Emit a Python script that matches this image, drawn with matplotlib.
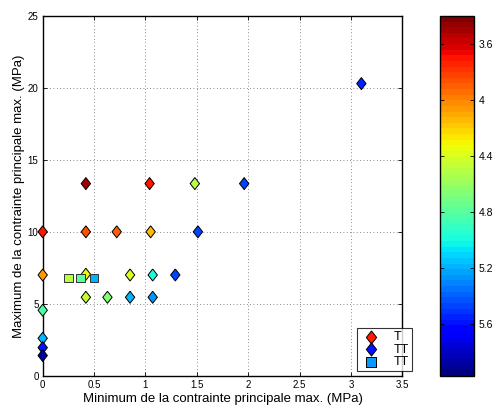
import numpy as np
import matplotlib
matplotlib.use("Agg")
import matplotlib.pyplot as plt
from matplotlib.colors import Normalize

plt.rcParams['font.family'] = ['Liberation Sans', 'DejaVu Sans']

# Diamonds (T)
diam_x = [0, 0, 0, 0, 0, 0,
          0.42, 0.42, 0.42, 0.42,
          0.72, 0.63, 0.85, 0.85,
          1.04, 1.05, 1.07, 1.07,
          1.29, 1.48, 1.51, 1.96, 3.10]
diam_y = [10.0, 7.0, 4.55, 2.6, 1.95, 1.4,
          13.35, 10.0, 7.05, 5.45,
          10.0, 5.45, 7.0, 5.45,
          13.35, 10.0, 7.0, 5.45,
          7.0, 13.35, 10.0, 13.35, 20.3]
diam_c = [3.72, 4.05, 4.82, 5.18, 5.6, 5.85,
          3.5, 3.85, 4.3, 4.48,
          3.92, 4.65, 4.4, 5.18,
          3.72, 4.15, 5.0, 5.25,
          5.45, 4.5, 5.45, 5.45, 5.55]
# Squares (TT)
sq_x = [0.25, 0.37, 0.50]
sq_y = [6.8, 6.8, 6.8]
sq_c = [4.5, 4.8, 5.2]

legend_labels = ['T', 'TT', 'TT']
cbar_ticks = [3.6, 4.0, 4.4, 4.8, 5.2, 5.6]
cbar_ticklabels = ['3.6', '4', '4.4', '4.8', '5.2', '5.6']
vmin, vmax = 3.4, 5.97

cmap = plt.get_cmap('jet_r', 64)
norm = Normalize(vmin=vmin, vmax=vmax)

diamond = [(0, 1), (0.78, 0), (0, -1), (-0.78, 0), (0, 1)]

fig = plt.figure(figsize=(4.93, 4.08), dpi=100)
ax = fig.add_axes([0.0866, 0.0792, 0.7298, 0.8816])

ax.grid(True, linestyle=(0, (1, 3)), color='#666666', linewidth=0.6)
ax.set_axisbelow(True)

sc = ax.scatter(diam_x, diam_y, c=diam_c, cmap=cmap, norm=norm, marker=diamond,
                s=75, edgecolors='black', linewidths=0.7, zorder=3, clip_on=False)
ax.scatter(sq_x, sq_y, c=sq_c, cmap=cmap, norm=norm, marker='s',
           s=38, edgecolors='#333333', linewidths=0.7, zorder=3, clip_on=False)

ax.set_xlim(0, 3.5)
ax.set_ylim(0, 25)
ax.set_xticks([0, 0.5, 1, 1.5, 2, 2.5, 3, 3.5])
ax.set_xticklabels(['0', '0.5', '1', '1.5', '2', '2.5', '3', '3.5'])
ax.set_yticks([0, 5, 10, 15, 20, 25])
ax.tick_params(direction='in', top=True, right=True, labelsize=7, length=3, width=0.6, pad=3)
for sp in ax.spines.values():
    sp.set_linewidth(1.0)

ax.set_xlabel('Minimum de la contrainte principale max. (MPa)', fontsize=9.5, labelpad=2)
ax.set_ylabel('Maximum de la contrainte principale max. (MPa)', fontsize=9.5, labelpad=2)

# legend
h1 = ax.scatter([], [], marker=diamond, s=90, color='#ff1a00', edgecolors='black', linewidths=0.7)
h2 = ax.scatter([], [], marker=diamond, s=90, color='#0010ff', edgecolors='black', linewidths=0.7)
h3 = ax.scatter([], [], marker='s', s=45, color='#0a9aff', edgecolors='black', linewidths=0.7)
leg = ax.legend([h1, h2, h3], legend_labels, loc='lower right',
                bbox_to_anchor=(1.027, 0.012), fontsize=9, frameon=True, fancybox=False,
                edgecolor='black', handlelength=1.8, handletextpad=0.9, borderpad=0.25,
                labelspacing=0.05, borderaxespad=0.0)
leg.get_frame().set_linewidth(0.8)
leg.set_zorder(5)

cax = fig.add_axes([0.8925, 0.0784, 0.069, 0.8824])
cb = fig.colorbar(sc, cax=cax)
cax.invert_yaxis()
cb.set_ticks(cbar_ticks)
cb.set_ticklabels(cbar_ticklabels)
cax.tick_params(direction='in', left=True, right=True, labelsize=7.5, length=3, width=0.6)
cb.outline.set_linewidth(1.0)

fig.savefig('out.png', dpi=100)
